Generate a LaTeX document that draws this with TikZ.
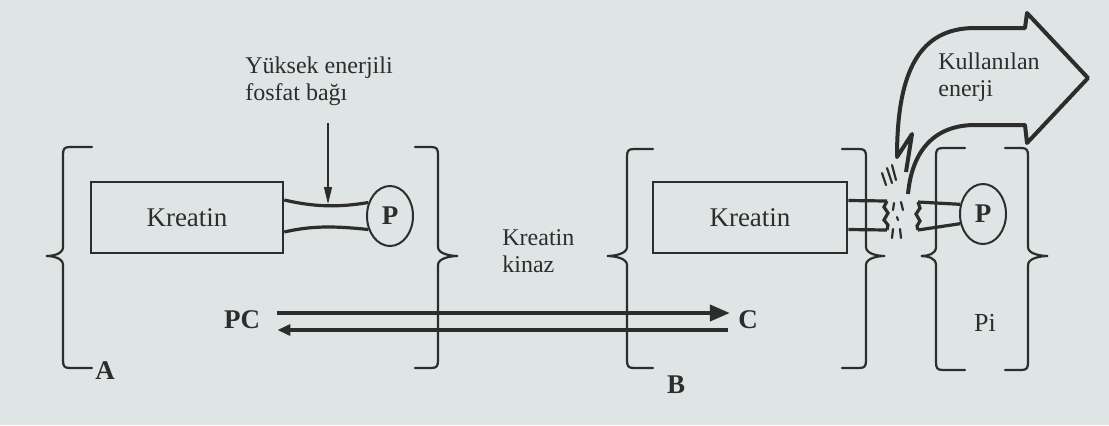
\documentclass[tikz,border=0pt]{standalone}
\usepackage{fontspec}
\setmainfont{Liberation Serif}
\usetikzlibrary{arrows.meta,shapes.geometric,calc}
\definecolor{paper}{RGB}{222,229,228}
\definecolor{ink}{RGB}{45,45,45}
\newcommand{\BrL}[5]{% vertical x, hook x, top y, cusp x, bottom y
\draw[br] (#2,#3) -- ({#1+7},#3) .. controls ({#1+1},#3) and (#1,{#3+2}) .. (#1,{#3+8}) -- (#1,247) .. controls (#1,254) and ({#4+7},256) .. (#4,256) .. controls ({#4+7},256) and (#1,258) .. (#1,265) -- (#1,{#5-8}) .. controls (#1,{#5-2}) and ({#1+1},#5) .. ({#1+7},#5) -- (#2,#5);}
\newcommand{\BrR}[5]{%
\draw[br] (#2,#3) -- ({#1-7},#3) .. controls ({#1-1},#3) and (#1,{#3+2}) .. (#1,{#3+8}) -- (#1,247) .. controls (#1,254) and ({#4-7},256) .. (#4,256) .. controls ({#4-7},256) and (#1,258) .. (#1,265) -- (#1,{#5-8}) .. controls (#1,{#5-2}) and ({#1-1},#5) .. ({#1-7},#5) -- (#2,#5);}
\tikzset{
  br/.style={draw=ink, line width=1.1pt, line cap=round},
  kbox/.style={draw=ink, line width=1.3pt, minimum width=96pt, minimum height=35.5pt, inner sep=0pt, font=\fontsize{13.5}{15}\selectfont},
  pball/.style={draw=ink, line width=1pt, ellipse, minimum width=23pt, minimum height=30pt, inner sep=0pt, font=\fontsize{13.5}{15}\selectfont\bfseries},
  bond/.style={draw=ink, line width=1.6pt},
  lbl/.style={align=left, inner sep=0pt, text=ink, font=\fontsize{12}{13.5}\selectfont},
  bold/.style={inner sep=0pt, text=ink, font=\fontsize{13.5}{15}\selectfont\bfseries},
  rxn/.style={draw=ink, line width=2pt},
  thin/.style={draw=ink, line width=0.6pt, -{Triangle[length=8.5pt,width=4pt]}},
  bigarrow/.style={draw=ink, line width=2pt, line join=round},
  crack/.style={draw=ink, line width=1.1pt, line cap=round}
}
\begin{document}
\begin{tikzpicture}[x=0.5pt, y=-0.5pt, text=ink]
\fill[paper] (0,0) rectangle (1109,425);
\useasboundingbox (0,0) rectangle (1109,425);

% ---- A ----
\BrL{63}{92}{147}{46}{368}
\BrR{438}{415}{147}{458}{368}
\node[kbox] (k1) at (187,217.5) {Kreatin};
\node[pball] (p1) at (390,216) {P};
\draw[bond] ([yshift=8.75pt]k1.east) .. controls +(30,7) and +(-30,5) .. (p1.148);
\draw[bond] ([yshift=-7.25pt]k1.east) .. controls +(30,-7) and +(-30,-3) .. (p1.212);
\node[lbl, anchor=west] (lab) at (245,81) {Yüksek enerjili\\fosfat bağı};
\coordinate (bondtop) at (328,204);
\draw[thin] ([yshift=-8.5pt]lab.south -| bondtop) -- (bondtop);
\node[bold] (A) at (105,371) {A};

% ---- reaction ----
\node[bold] (PC) at (242,320) {PC};
\node[bold] (C) at (748,320) {C};
\node[lbl, anchor=west] (kk) at (502,251) {Kreatin\\kinaz};
\draw[rxn, -{Triangle[length=10pt,width=8pt]}] ([xshift=8.5pt,yshift=3.5pt]PC.east) -- ([xshift=-4pt,yshift=3.5pt]C.west);
\draw[rxn, {Triangle[length=6.5pt,width=5.5pt]}-] ([xshift=8.5pt,yshift=-5pt]PC.east) -- ([xshift=-5pt,yshift=-5pt]C.west);

% ---- B ----
\BrL{627}{653}{149}{607}{368}
\BrR{866}{842}{149}{885}{368}
\node[kbox, minimum width=97pt] (k2) at (750,217.5) {Kreatin};
\node[bold] (B) at (676,385) {B};
\coordinate (s1) at (887,201);
\coordinate (s2) at (887,230);
\draw[bond] ([yshift=8.5pt]k2.east) -- (s1);
\draw[bond] ([yshift=-6pt]k2.east) -- (s2);
\draw[bond] (s1) -- (884,207) -- (888,213) -- (884,220) -- (888,225) -- (s2);

% ---- Pi ----
\BrL{936}{965}{148}{921}{370}
\BrR{1028}{1005}{148}{1048}{370}
\node[pball] (p2) at (983,214) {P};
\node[lbl, font=\fontsize{13}{15}\selectfont] (Pi) at (985,323) {Pi};
\coordinate (t1) at (918,202);
\coordinate (t2) at (918,230);
\draw[bond] (t1) -- (p2.157);
\draw[bond] (t2) -- (p2.203);
\draw[bond] (t1) -- (920,208) -- (916,214) -- (920,221) -- (917,226) -- (t2);

% cracks
\draw[crack] (882,173) -- (886,185);
\draw[crack] (887,168) -- (892,183);
\draw[crack] (892,165) -- (896,180);
\draw[crack] (894,203) -- (893,210);
\draw[crack] (901,202) -- (903,210);
\draw[crack] (897,217) -- (898,220);
\draw[crack] (893,229) -- (892,238);
\draw[crack] (900,229) -- (901,238);

% big energy arrow
\draw[bigarrow] (908,194) .. controls (912,150) and (935,125) .. (975,125) -- (1025,125) -- (1027,143) -- (1088,78) -- (1027,13) -- (1025,28) -- (975,28) .. controls (920,28) and (897,70) .. (897,157) -- (912,134) -- (906,172);
\node[lbl, anchor=north west] (ku) at (938,52) {Kullanılan\\enerji};
\end{tikzpicture}
\end{document}
